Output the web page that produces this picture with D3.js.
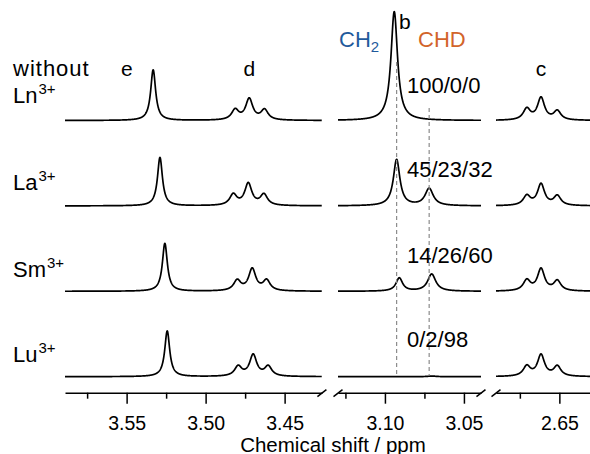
<!DOCTYPE html>
<html>
<head>
<meta charset="utf-8">
<script src="https://cdn.jsdelivr.net/npm/d3@7"></script>
<style>
body { margin: 0; background: #fff; }
text { font-family: "Liberation Sans", Arial, sans-serif; fill: #000; }
</style>
</head>
<body>
<div id="chart"></div>
<script>

// ---DATA---//

var rowNames = [ "Ln", "La", "Sm", "Lu" ];
var ratioLabels = [ "100/0/0", "45/23/32", "14/26/60", "0/2/98" ];

// peak e (ppm, intensity)
var ePos = [ 3.5332, 3.5289, 3.5258, 3.5243 ];
var eHeight = [ 46, 44, 43.5, 41.5 ];

// triplet d
var dPos = [ [ 3.4813, 3.4724, 3.4627 ], [ 3.4825, 3.4730, 3.4631 ],
		[ 3.4800, 3.4705, 3.4614 ], [ 3.4794, 3.4699, 3.4604 ] ];
var dHeight = [ [ 9.2, 19.2, 9.2 ], [ 9.9, 19.9, 9.9 ], [ 9.4, 19.9, 9.4 ],
		[ 8.9, 19.4, 8.9 ] ];

// b : CH2 and CHD
var bPos = [ 3.0941, 3.0926, 3.0909, 3.0905 ];
var bHeight = [ 99, 42, 12, 0 ];
var chdPos = [ 3.0720, 3.0720, 3.0704, 3.0703 ];
var chdHeight = [ 0, 15.6, 15.6, 0.6 ];

// triplet c
var cPos = [ 2.6706, 2.6616, 2.6513 ];
var cHeight = [ [ 10.2, 20.2, 8.2 ], [ 8.7, 19.4, 8.7 ], [ 9.6, 19.9, 9.1 ],
		[ 9.1, 19.4, 9.1 ] ];

// half widths (ppm)
var eWidth = 0.0019;
var dWidth = 0.0027;
var bWidth = 0.0025;
var chdWidth = 0.0031;
var cWidth = 0.0027;

// broken axis
var segDomains = [ [ 3.589, 3.4264 ], [ 3.1297, 3.0392 ], [ 2.6901, 2.6306 ] ];
var majorTicks = [ [ 3.55, 3.50, 3.45 ], [ 3.10, 3.05 ], [ 2.65 ] ];
var minorTicks = [ [ 3.575, 3.525, 3.475 ], [ 3.125, 3.075 ], [ 2.675 ] ];

// ---LAYOUT---//

var width = 590;
var height = 454;
var pxPerPpm = 1580;
var segStarts = [ 65, 338, 496 ];
var axisY = 392.7;

var svg = d3.select("#chart").append("svg").attr("width", width).attr(
		"height", height);

var xScales = segDomains.map(function(dom, i) {
	var x0 = segStarts[i];
	var x1 = x0 + (dom[0] - dom[1]) * pxPerPpm;
	return d3.scaleLinear().domain(dom).range([ x0, x1 ]);
});

var rowY = d3.scaleLinear().domain([ 0, 3 ]).range([ 120.5, 376.7 ]);
var yInt = d3.scaleLinear().domain([ 0, 100 ]).range([ 0, 110 ]);

// ---SPECTRA---//

function lorentz(x, x0, h, g) {
	var t = (x - x0) / g;
	return h / (1 + t * t);
}

function peaksForRow(r) {
	var peaks = [];
	peaks.push([ ePos[r], eHeight[r], eWidth ]);
	for (var k = 0; k < 3; k++) {
		peaks.push([ dPos[r][k], dHeight[r][k], dWidth ]);
		peaks.push([ cPos[k], cHeight[r][k], cWidth ]);
	}
	peaks.push([ bPos[r], bHeight[r], bWidth ]);
	peaks.push([ chdPos[r], chdHeight[r], chdWidth ]);
	return peaks;
}// END: peaksForRow

var spectraLayer = svg.append("g").attr("class", "spectra");

// dashed guides for CH2 / CHD
var guides = [ [ bPos[1], 62 ], [ chdPos[1], 108 ] ];
svg.append("g").selectAll("line").data(guides).enter().append("line") //
.attr("x1", function(d) {
	return xScales[1](d[0]);
}) //
.attr("x2", function(d) {
	return xScales[1](d[0]);
}) //
.attr("y1", function(d) {
	return d[1];
}) //
.attr("y2", rowY(3) - 1) //
.attr("stroke", "#8c8c8c") //
.attr("stroke-width", 1.2) //
.attr("stroke-dasharray", "4,3");

rowNames.forEach(function(name, r) {

	var peaks = peaksForRow(r);
	var base = rowY(r);

	xScales.forEach(function(xs, s) {

		var dom = segDomains[s];
		var pts = d3.range(dom[0], dom[1], -0.0001).map(function(p) {
			var v = 0;
			peaks.forEach(function(pk) {
				v += lorentz(p, pk[0], pk[1], pk[2]);
			});
			return [ p, v ];
		});

		var line = d3.line().x(function(d) {
			return xs(d[0]);
		}).y(function(d) {
			return base - yInt(d[1]);
		});

		spectraLayer.append("path").datum(pts) //
		.attr("d", line) //
		.attr("fill", "none") //
		.attr("stroke", "#000") //
		.attr("stroke-width", 1.7) //
		.attr("stroke-linejoin", "round");

	});

});

// ---AXIS---//

var axisLayer = svg.append("g").attr("class", "axis").attr("transform",
		"translate(0," + axisY + ")");

xScales.forEach(function(xs, s) {

	var major = d3.axisBottom(xs).tickValues(majorTicks[s]).tickSize(11)
			.tickSizeOuter(0).tickPadding(12).tickFormat(d3.format(".2f"));
	var minor = d3.axisBottom(xs).tickValues(minorTicks[s]).tickSize(6)
			.tickSizeOuter(0).tickFormat("");

	var g = axisLayer.append("g").call(major);
	axisLayer.append("g").call(minor).select(".domain").remove();

	g.selectAll("text").attr("font-size", 19.5).attr("font-family",
			"Liberation Sans, Arial, sans-serif").attr("fill", "#000");
	axisLayer.selectAll("line, path").attr("stroke", "#000").attr(
			"stroke-width", 1.5);
});

// break marks
var breaks = [ xScales[0].range()[1], xScales[1].range()[0],
		xScales[1].range()[1], xScales[2].range()[0] ];
axisLayer.selectAll(".break").data(breaks).enter().append("line") //
.attr("class", "break") //
.attr("x1", function(d) {
	return d - 4.5;
}) //
.attr("x2", function(d) {
	return d + 4.5;
}) //
.attr("y1", 4) //
.attr("y2", -3) //
.attr("stroke", "#000") //
.attr("stroke-width", 1.5);

svg.append("text").attr("x", 333).attr("y", 451.5).attr("text-anchor",
		"middle").attr("font-size", 20.5).text("Chemical shift / ppm");

// ---LABELS---//

var labelSize = 21;

svg.append("text").attr("x", 13).attr("y", 76).attr("font-size", 22).attr(
		"letter-spacing", 1).text("without");

var rowLabelY = [ 103.3, 190, 276.7, 361.7 ];
rowNames.forEach(function(name, r) {
	var t = svg.append("text").attr("x", 13).attr("y", rowLabelY[r]).attr(
			"font-size", 22).text(name);
	t.append("tspan").attr("font-size", 15).attr("dx", 1).attr("dy", -9)
			.text("3+");
});

var ratioY = [ 93.3, 177.3, 262.7, 346.7 ];
ratioLabels.forEach(function(lab, r) {
	svg.append("text").attr("x", 407).attr("y", ratioY[r]).attr(
			"font-size", 22).text(lab);
});

// peak letters
svg.append("text").attr("x", 121).attr("y", 76).attr("font-size",
		labelSize).text("e");
svg.append("text").attr("x", xScales[0](dPos[0][1])).attr("y", 76).attr(
		"font-size", labelSize).attr("text-anchor", "middle").text("d");
svg.append("text").attr("x", xScales[2](cPos[1])).attr("y", 76).attr(
		"font-size", labelSize).attr("text-anchor", "middle").text("c");
svg.append("text").attr("x", 399).attr("y", 28.5).attr("font-size",
		labelSize).text("b");

var ch2 = svg.append("text").attr("x", 339).attr("y", 47).attr("font-size",
		22).style("fill", "#1f5a9c").text("CH");
ch2.append("tspan").attr("font-size", 15).attr("dy", 5).text("2");

svg.append("text").attr("x", 418).attr("y", 47).attr("font-size", 22).style(
		"fill", "#d2642a").text("CHD");

</script>
</body>
</html>
